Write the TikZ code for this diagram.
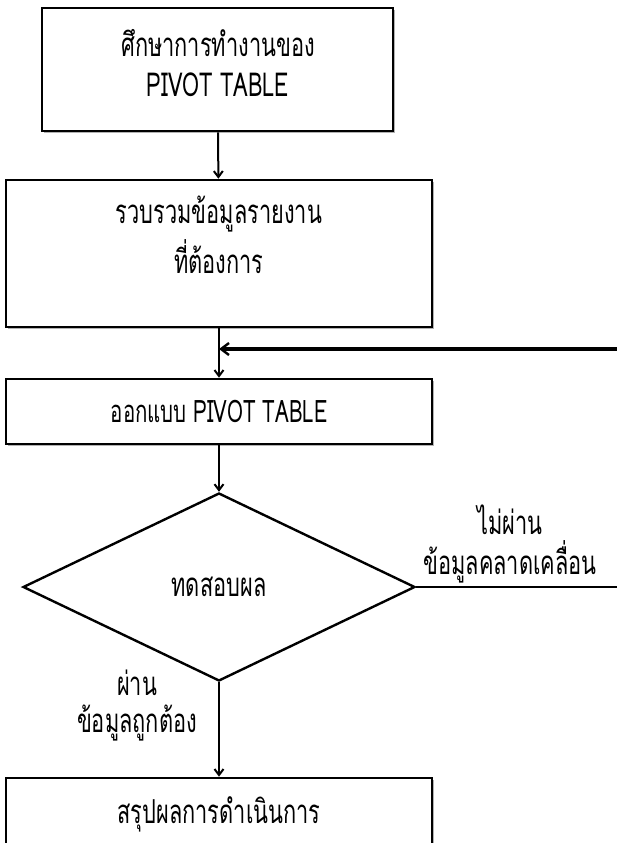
\documentclass[tikz,border=0pt]{standalone}
\usepackage{fontspec}
\newfontfamily\thaifont[Script=Thai,FakeStretch=0.66]{Loma}
\usetikzlibrary{shapes.geometric, arrows.meta, positioning, shadows}

\tikzset{
  box/.style={draw, line width=2.6pt, fill=white, inner sep=0pt,
    drop shadow={shadow xshift=1.8pt, shadow yshift=-1.8pt, fill=gray!60, opacity=1}},
  decision/.style={diamond, draw, line width=2.4pt, inner sep=0pt},
  txt/.style={font=\thaifont\fontsize{33}{40}\selectfont, align=center},
  small txt/.style={font=\thaifont\fontsize{31}{40}\selectfont, align=center},
  flow/.style={-{Straight Barb[length=6pt,width=9pt]}, line width=2pt},
}

\begin{document}
\begin{tikzpicture}[x=1pt, y=-1pt]
\useasboundingbox (0,0) rectangle (616,843);

% main column of steps
\node[box, minimum width=351pt, minimum height=123pt] (study) at (217.5,69.5) {};
\node[txt] (study text) at (218,63) {ศึกษาการทำงานของ\\PIVOT TABLE};
\node[box, minimum width=426pt, minimum height=147pt] (collect) at (219,253.5) {};
\node[txt] (collect text) at (219,235) {รวบรวมข้อมูลรายงาน\\[6pt]ที่ต้องการ};
\node[box, small txt, minimum width=426pt, minimum height=65pt] (design) at (219,411.5) {ออกแบบ PIVOT TABLE};
\node[decision, txt, minimum width=392pt, minimum height=188pt] (check) at (219,587) {ทดสอบผล};
\node[box, txt, minimum width=426pt, minimum height=72pt] (report) at (219,814) {สรุปผลการดำเนินการ};

% branch labels
\node[txt] (fail label) at (510,544) {ไม่ผ่าน\\ข้อมูลคลาดเคลื่อน};
\node[txt, font=\thaifont\fontsize{33}{37}\selectfont] (pass label) at (137,706) {ผ่าน\\ข้อมูลถูกต้อง};

% loop back from the right edge
\coordinate (fail end) at (620,587);
\coordinate (loop start) at (620,349);
\coordinate (loop join) at (collect.south |- loop start);

\draw[flow] (study) -- (collect);
\draw[flow] (collect) -- (design);
\draw[-{Straight Barb[length=8pt,width=12pt,line width=2.4pt]}, line width=3.4pt] (loop start) -- (loop join);
\draw[flow] (design) -- (check);
\draw[line width=1.8pt] (check.east) -- (fail end);
\draw[flow] (check) -- (report);
\end{tikzpicture}
\end{document}
